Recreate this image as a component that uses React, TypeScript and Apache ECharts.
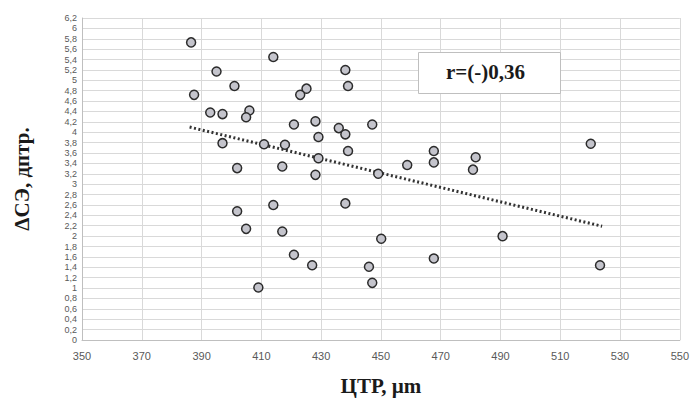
import React, { useEffect, useRef } from "react";
import * as echarts from "echarts";

const xValues = [
  386.5, 414.0, 395.0, 438.1, 401.0, 439.0, 387.5, 425.1, 423.0, 392.9,
  397.0, 406.0, 404.9, 420.9, 428.1, 435.9, 438.1, 447.1, 397.0, 410.9,
  417.9, 429.1, 439.0, 429.1, 401.9, 417.0, 428.1, 449.1, 401.9, 414.0,
  438.1, 404.9, 417.0, 450.1, 420.9, 427.0, 446.0, 447.1, 409.0, 467.7,
  467.7, 458.8, 481.7, 480.8, 490.7, 467.7, 523.3, 520.2,
];
const yValues = [
  5.73, 5.45, 5.17, 5.2, 4.89, 4.89, 4.72, 4.84, 4.72, 4.38,
  4.35, 4.42, 4.29, 4.15, 4.21, 4.08, 3.96, 4.15, 3.79, 3.77,
  3.76, 3.91, 3.64, 3.5, 3.31, 3.34, 3.18, 3.2, 2.48, 2.6,
  2.63, 2.14, 2.09, 1.95, 1.64, 1.44, 1.41, 1.1, 1.01, 3.64,
  3.42, 3.37, 3.52, 3.28, 2.0, 1.57, 1.44, 3.78,
];
const trendX = [386, 524];
const trendY = [4.1, 2.19];
const rLabel = "r=(-)0,36";
const xName = "ЦТР, µm";
const yName = "ΔСЭ, дптр.";

export default function App() {
  const ref = useRef<HTMLDivElement>(null);
  useEffect(() => {
    if (!ref.current) return;
    const chart = echarts.init(ref.current, undefined, { renderer: "svg" });
    chart.setOption({
      animation: false,
      backgroundColor: "#ffffff",
      grid: { left: 82, right: 11, top: 18, bottom: 55, containLabel: false },
      xAxis: {
        type: "value",
        min: 350,
        max: 550,
        interval: 20,
        name: xName,
        nameLocation: "middle",
        nameGap: 35,
        nameTextStyle: {
          fontFamily: "Liberation Serif",
          fontWeight: "bold",
          fontSize: 21,
          color: "#1a1a1a",
        },
        axisLine: { show: true, lineStyle: { color: "#bfbfbf" } },
        axisTick: { show: false },
        axisLabel: {
          fontFamily: "Liberation Sans",
          fontSize: 11,
          color: "#595959",
          margin: 10,
        },
        splitLine: { show: true, lineStyle: { color: "#d9d9d9" } },
      },
      yAxis: {
        type: "value",
        min: 0,
        max: 6.2,
        interval: 0.2,
        name: yName,
        nameLocation: "middle",
        nameGap: 50,
        nameTextStyle: {
          fontFamily: "Liberation Serif",
          fontWeight: "bold",
          fontSize: 21,
          color: "#1a1a1a",
        },
        axisLine: { show: true, lineStyle: { color: "#bfbfbf" } },
        axisTick: { show: false },
        axisLabel: {
          fontFamily: "Liberation Sans",
          fontSize: 9,
          color: "#595959",
          margin: 5,
          formatter: (v: number) => String(+v.toFixed(1)).replace(".", ","),
        },
        splitLine: { show: true, lineStyle: { color: "#d9d9d9" } },
      },
      series: [
        {
          type: "line",
          data: trendX.map((x, i) => [x, trendY[i]]),
          symbol: "none",
          lineStyle: { color: "#333333", width: 3, type: [2, 2.5] },
          z: 2,
        },
        {
          type: "scatter",
          data: xValues.map((x, i) => [x, yValues[i]]),
          symbol: "circle",
          symbolSize: 9,
          itemStyle: {
            color: "#c4c4cc",
            borderColor: "#2b2b2b",
            borderWidth: 1.5,
            opacity: 1,
          },
          z: 3,
        },
      ],
      graphic: [
        {
          type: "rect",
          left: 418,
          top: 52,
          z: 100,
          shape: { x: 0, y: 0, width: 142, height: 41 },
          style: { fill: "#ffffff", stroke: "#bfbfbf", lineWidth: 1 },
        },
        {
          type: "text",
          left: 446,
          top: 61,
          z: 101,
          style: {
            text: rLabel,
            fontFamily: "Liberation Serif",
            fontWeight: "bold",
            fontSize: 21,
            fill: "#1a1a1a",
          },
        },
      ],
    });
    return () => chart.dispose();
  }, []);
  return (
    <div
      ref={ref}
      style={{ width: 692, height: 401, position: "absolute", left: 0, top: 0 }}
    />
  );
}
